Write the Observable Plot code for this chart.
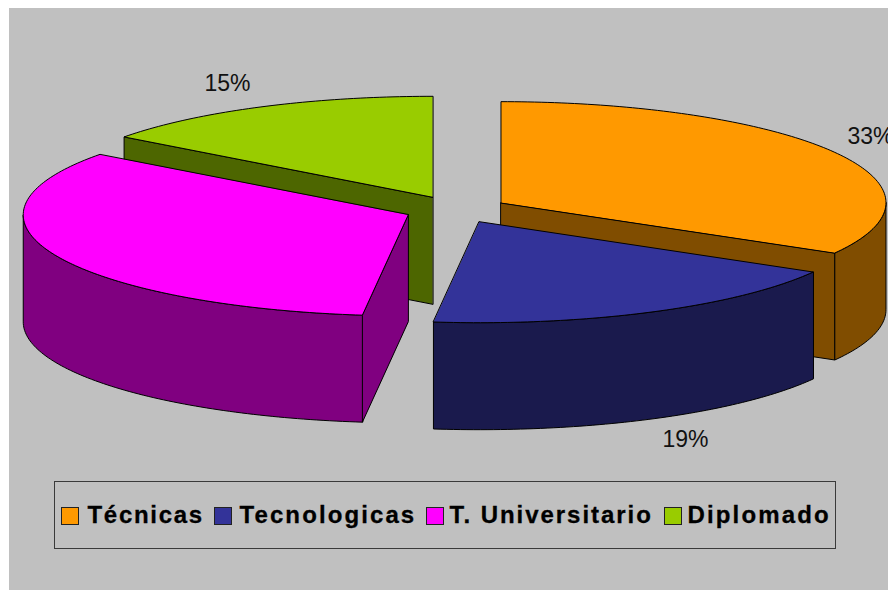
<!DOCTYPE html>
<html><head><meta charset="utf-8">
<script src="https://cdn.jsdelivr.net/npm/d3@7"></script>
<script src="https://cdn.jsdelivr.net/npm/@observablehq/plot@0.6"></script>
<style>
html,body{margin:0;padding:0;background:#fff;}
#chart{position:absolute;left:9px;top:8px;width:879px;height:582px;background:#c0c0c0;overflow:hidden;}
#chart svg{display:block;background:transparent;overflow:hidden;}
#legend{position:absolute;left:45px;top:473px;width:780px;height:66px;border:1.5px solid #3a3a3a;font:bold 24px "Liberation Sans",Arial,sans-serif;color:#000;-webkit-text-stroke:0.3px #000;}
#legend i{position:absolute;top:25px;width:16px;height:16px;border:1px solid #222;}
#legend span{position:absolute;top:19px;white-space:nowrap;line-height:28px;}
</style></head><body>
<div id="chart"></div>
<script>
const categories = ["Técnicas","Tecnologicas","T. Universitario","Diplomado"];
const shares = [33.3,18.6,33.3,14.8];
const labels = ["33%","19%","","15%"];
const topColors = ["#ff9900","#333399","#ff00ff","#99cc00"];
const sideColors = ["#804d00","#1a1a4d","#800080","#4d6600"];
const labelX = [870,685,null,227];
const labelY = [136,439,null,83];
const legendSwatchX = [52,205,417,655];
const legendTextX = [70,222,432,670];
const legendSpacing = [1.7,2.1,1.95,2.15];

// pie layout, in page pixels
const cx = 455.5, cy = 209, rx = 385, ry = 101, depth = 107, explode = 0.135;
const rad = d => d * Math.PI / 180;

let acc = 0;
const slices = shares.map((s,i)=>{
  const a0 = acc*3.6, a1 = (acc+s)*3.6; acc += s;
  const mid = (a0+a1)/2;
  return {i,a0,a1,
    ox: cx + explode*rx*Math.sin(rad(mid)),
    oy: cy - explode*ry*Math.cos(rad(mid))};
});
const rim = (s,a)=>[s.ox+rx*Math.sin(rad(a)), s.oy-ry*Math.cos(rad(a))];
const arc = (s,a,b)=>{
  const n = Math.max(1,Math.ceil(Math.abs(b-a)));
  return d3.range(n+1).map(k=>rim(s,a+(b-a)*k/n));
};
const down = p=>[p[0],p[1]+depth];
const topFace = s=>[[s.ox,s.oy],...arc(s,s.a0,s.a1)];
const radialWall = (s,a)=>{const p=rim(s,a),o=[s.ox,s.oy];return [o,p,down(p),down(o)];};
const rimWall = (s,a,b)=>{const pts=arc(s,a,b);return [...pts,...pts.slice().reverse().map(down)];};
const face = (pts,fill)=>Plot.line(pts,{x:d=>d[0],y:d=>d[1],fill,stroke:"#000",strokeWidth:1,curve:"linear-closed"});

const [orange,blue,magenta,green] = slices;
const marks = [
  face(radialWall(green,green.a0),sideColors[3]),
  face(topFace(green),topColors[3]),
  face(rimWall(magenta,magenta.a0,270),sideColors[2]),
  face(radialWall(magenta,magenta.a0),sideColors[2]),
  face(topFace(magenta),topColors[2]),
  face(radialWall(orange,orange.a1),sideColors[0]),
  face(rimWall(orange,90,orange.a1),sideColors[0]),
  face(topFace(orange),topColors[0]),
  face(rimWall(blue,blue.a0,blue.a1),sideColors[1]),
  face(topFace(blue),topColors[1]),
  Plot.text(d3.range(4).filter(i=>labels[i]),{
    x:i=>labelX[i],y:i=>labelY[i],text:i=>labels[i],
    fontSize:23,fontFamily:"Liberation Sans, Arial, sans-serif",fill:"#111",textAnchor:"middle"})
];
const plot = Plot.plot({
  width:879,height:470,margin:0,
  x:{domain:[9,888],range:[0,879],axis:null},
  y:{domain:[8,478],range:[0,470],axis:null},
  marks
});
const chart = document.getElementById("chart");
chart.appendChild(plot);
const legend = document.createElement("div");
legend.id="legend";
categories.forEach((c,i)=>{
  const sw=document.createElement("i");
  sw.style.left=(legendSwatchX[i]-46.5)+"px"; sw.style.background=topColors[i];
  const t=document.createElement("span");
  t.textContent=c; t.style.left=(legendTextX[i]-37.5)+"px"; t.style.letterSpacing=legendSpacing[i]+"px";
  legend.append(sw,t);
});
chart.appendChild(legend);
</script>
</body></html>
